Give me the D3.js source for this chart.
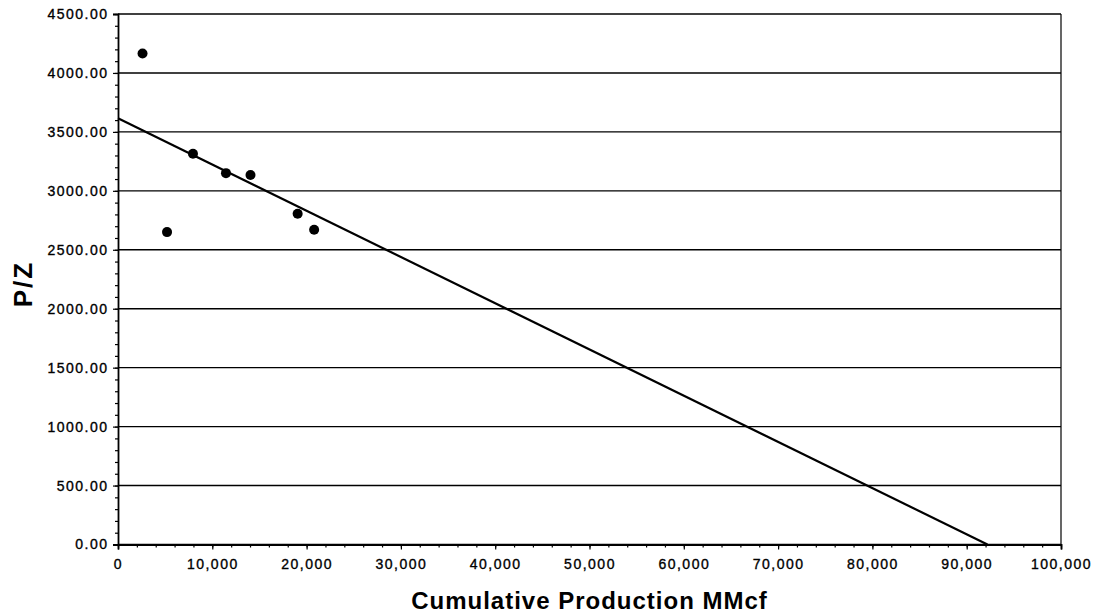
<!DOCTYPE html>
<html>
<head>
<meta charset="utf-8">
<script src="https://cdn.jsdelivr.net/npm/d3@7"></script>
<style>
  body { margin: 0; background: #fff; }
  text { font-family: "Liberation Sans", Arial, sans-serif; fill: #000; }
</style>
</head>
<body>
<svg id="chart" width="1093" height="614"></svg>
<script>
// Cumulative production (MMcf) and measured P/Z
const cumProd = [2600, 5200, 7950, 11450, 14050, 19050, 20800];
const pz = [4165, 2650, 3315, 3150, 3135, 2805, 2670];

// straight-line fit, drawn end to end
const trendX = [0, 92200];
const trendY = [3615, 0];

const xTicks = [0, 10000, 20000, 30000, 40000, 50000, 60000, 70000, 80000, 90000, 100000];
const yTicks = [0, 500, 1000, 1500, 2000, 2500, 3000, 3500, 4000, 4500];

const svg = d3.select("#chart");

const x = d3.scaleLinear().domain([0, 100000]).range([118, 1061]);
const y = d3.scaleLinear().domain([0, 4500]).range([544.5, 14]);

// horizontal grid lines
svg.append("g")
  .selectAll("line")
  .data(yTicks)
  .join("line")
  .attr("x1", x(0)).attr("x2", x(100000))
  .attr("y1", d => y(d)).attr("y2", d => y(d))
  .attr("stroke", "#000")
  .attr("stroke-width", 1.4);

// right border
svg.append("line")
  .attr("x1", x(100000)).attr("x2", x(100000))
  .attr("y1", y(0)).attr("y2", y(4500))
  .attr("stroke", "#000").attr("stroke-width", 1.2);

// minor ticks
svg.append("g")
  .attr("transform", `translate(${x(0)},0)`)
  .call(d3.axisLeft(y).tickValues(d3.range(0, 4501, 100)).tickSize(3).tickFormat(""))
  .call(g => g.select(".domain").remove())
  .selectAll("line").attr("stroke-width", 1.2);

svg.append("g")
  .attr("transform", `translate(0,${y(0)})`)
  .call(d3.axisBottom(x).tickValues(d3.range(0, 100001, 2000)).tickSize(3).tickFormat(""))
  .call(g => g.select(".domain").remove())
  .selectAll("line").attr("stroke-width", 1.2);

// main axes
const yAxis = svg.append("g")
  .attr("transform", `translate(${x(0)},0)`)
  .call(d3.axisLeft(y).tickValues(yTicks).tickSize(5).tickPadding(6).tickFormat(d3.format(".2f")));

const xAxis = svg.append("g")
  .attr("transform", `translate(0,${y(0)})`)
  .call(d3.axisBottom(x).tickValues(xTicks).tickSize(5).tickPadding(10).tickFormat(d3.format(",")));

[yAxis, xAxis].forEach(g => {
  g.attr("font-size", null).attr("font-family", null);
  g.select(".domain").attr("stroke-width", 1.8);
  g.selectAll(".tick line").attr("stroke-width", 1.2);
  g.selectAll(".tick text")
    .style("font-size", "14px")
    .style("letter-spacing", "1.5px")
    .attr("fill", "#000")
    .attr("stroke", "#000")
    .attr("stroke-width", 0.35);
});
// right-aligned labels: trailing letter-spacing pushes them left, compensate
yAxis.selectAll(".tick text").attr("dx", 1.5);

// trend line
svg.append("line")
  .attr("x1", x(trendX[0])).attr("y1", y(trendY[0]))
  .attr("x2", x(trendX[1])).attr("y2", y(trendY[1]))
  .attr("stroke", "#000")
  .attr("stroke-width", 2.2);

// data points
svg.append("g")
  .selectAll("circle")
  .data(cumProd.map((c, i) => ({ c, p: pz[i] })))
  .join("circle")
  .attr("cx", d => x(d.c))
  .attr("cy", d => y(d.p))
  .attr("r", 5)
  .attr("fill", "#000");

// axis titles
svg.append("text")
  .attr("x", (x(0) + x(100000)) / 2)
  .attr("y", 609)
  .attr("text-anchor", "middle")
  .style("font-size", "24px")
  .style("font-weight", "bold")
  .style("letter-spacing", "1px")
  .text("Cumulative Production MMcf");

svg.append("text")
  .attr("transform", "translate(32,284) rotate(-90)")
  .attr("text-anchor", "middle")
  .style("font-size", "26px")
  .style("font-weight", "bold")
  .style("letter-spacing", "2px")
  .text("P/Z");
</script>
</body>
</html>
